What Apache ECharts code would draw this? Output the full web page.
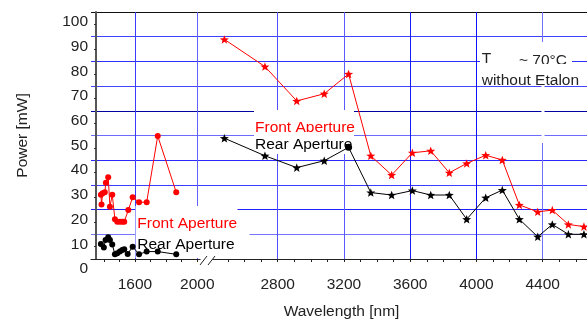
<!DOCTYPE html>
<html>
<head>
<meta charset="utf-8">
<script src="https://cdn.jsdelivr.net/npm/echarts@6/dist/echarts.min.js"></script>
<style>
  html, body { margin: 0; padding: 0; background: #fff; }
  #chart { width: 587px; height: 320px; }
</style>
</head>
<body>
<div id="chart"></div>
<script>
// === DATA ===
// left panel (short wavelengths)
const frontLeftNm = [1381, 1385, 1392, 1406, 1413, 1428, 1439, 1454, 1471, 1486, 1503, 1518, 1531, 1557, 1585, 1626, 1675, 1746, 1865];
const frontLeftPower = [26.0, 22.1, 26.6, 27.0, 30.9, 33.1, 21.2, 26.0, 16.1, 15.1, 15.1, 15.1, 15.1, 19.8, 25.0, 23.0, 23.0, 49.8, 27.0];
const rearLeftNm = [1381, 1400, 1411, 1428, 1439, 1454, 1471, 1486, 1503, 1518, 1531, 1553, 1585, 1626, 1675, 1746, 1865];
const rearLeftPower = [6.1, 4.7, 7.7, 8.8, 7.7, 5.9, 1.9, 2.3, 3.0, 3.6, 3.9, 2.0, 5.0, 1.9, 3.0, 3.0, 1.9];

// right panel (long wavelengths)
const rightNm = [2478, 2723, 2915, 3081, 3228, 3362, 3488, 3613, 3724, 3836, 3941, 4056, 4156, 4259, 4370, 4458, 4555, 4649];
const frontRightPower = [88.9, 77.9, 64.0, 66.9, 74.9, 41.8, 34.0, 43.0, 43.8, 34.9, 38.7, 42.0, 40.1, 21.9, 19.1, 19.8, 14.0, 13.1];
const rearRightPower = [48.9, 41.8, 37.0, 39.8, 45.2, 26.9, 25.9, 27.7, 25.9, 25.9, 16.1, 24.8, 27.9, 16.1, 9.0, 14.0, 10.0, 10.0];

// ticks
const leftTicks = [1400, 1500, 1600, 1700, 1800, 1900, 2000];
const leftLabels = [1600, 2000];
const rightTicks = [2500, 2600, 2700, 2800, 2900, 3000, 3100, 3200, 3300, 3400, 3500, 3600, 3700, 3800, 3900, 4000, 4100, 4200, 4300, 4400, 4500, 4600];
const rightLabels = [2800, 3200, 3600, 4000, 4400];

// === STYLE ===
const FONT = '"Liberation Sans", Arial, Helvetica, sans-serif';
const FS = 15.5;
const yGridColors = ['#000', '#7575ff', '#2020ff', '#3c3cff', '#2a2aff', '#6a6aff', '#0000a0', '#4545ff', '#3030ff', '#4040ff', '#111'];
const leftVColors = ['#3a3aff', '#6060ff'];
const rightVColors = ['#5050ff', '#5a5aff', '#1a1aff', '#1010ff', '#7070ff'];

function starSymbol() {
    let d = '';
    for (let i = 0; i < 10; i++) {
        const r = i % 2 === 0 ? 50 : 21;
        const a = -Math.PI / 2 + i * Math.PI / 5;
        d += (i ? 'L' : 'M') + (50 + r * Math.cos(a)).toFixed(2) + ',' + (50 + r * Math.sin(a)).toFixed(2);
    }
    return 'path://' + d + 'Z';
}
const STAR = starSymbol();

function zip(xs, ys) {
    return xs.map((x, i) => [x, ys[i]]);
}

// === CHART ===
const chart = echarts.init(document.getElementById('chart'), null, { renderer: 'canvas' });

const leftRange = { min: 1317.4, max: 2049.7 };
const rightRange = { min: 2361, max: 4667.5 };

function mainX(gridIndex, range, ticks, labels) {
    return {
        gridIndex: gridIndex, type: 'value', min: range.min, max: range.max,
        axisLine: { show: true, lineStyle: { color: '#222', width: 1 } },
        axisTick: { show: true, customValues: ticks, length: 3, lineStyle: { color: '#222' } },
        axisLabel: {
            customValues: labels, margin: 18, fontSize: FS, fontFamily: FONT, color: '#222',
            formatter: v => String(v)
        },
        splitLine: { show: false }
    };
}

function gridX(gridIndex, range, values, colors) {
    return {
        gridIndex: gridIndex, type: 'value', min: range.min, max: range.max,
        axisLine: { show: false },
        axisTick: { show: true, customValues: values, length: 0, lineStyle: { color: 'rgba(0,0,0,0)' } },
        axisLabel: { show: false, customValues: values },
        splitLine: { show: true, lineStyle: { color: colors, width: 1 } }
    };
}

// rear right: the point at 3228 is drawn as a circle
const rearRightData = zip(rightNm, rearRightPower).map((p, i) =>
    rightNm[i] === 3228 ? { value: p, symbol: 'circle', symbolSize: 7 } : p);

const option = {
    animation: false,
    grid: [
        { left: 91, top: 12, width: 114, bottom: 61 },
        { left: 205, top: 12, right: 0, bottom: 61 }
    ],
    xAxis: [
        mainX(0, leftRange, leftTicks, leftLabels),
        mainX(1, rightRange, rightTicks, rightLabels),
        gridX(0, leftRange, leftLabels, leftVColors),
        gridX(1, rightRange, rightLabels, rightVColors)
    ],
    yAxis: [
        {
            gridIndex: 0, type: 'value', min: 0, max: 100, interval: 10, offset: -5,
            axisLine: { show: true, lineStyle: { color: '#555', width: 2 } },
            axisTick: { show: false },
            minorTick: { show: true, splitNumber: 2, length: 2, lineStyle: { color: '#333' } },
            axisLabel: {
                fontSize: FS, fontFamily: FONT, color: '#222', margin: 8,
                verticalAlign: 'top', padding: [2, 0, 0, 0]
            },
            splitLine: { show: true, lineStyle: { color: yGridColors, width: 1 } },
            name: 'Power [mW]', nameLocation: 'middle', nameGap: 65,
            nameTextStyle: { fontSize: FS, fontFamily: FONT, color: '#222' }
        },
        {
            gridIndex: 1, type: 'value', min: 0, max: 100, interval: 10,
            axisLine: { show: false }, axisTick: { show: false }, axisLabel: { show: false },
            splitLine: { show: true, lineStyle: { color: yGridColors, width: 1 } }
        }
    ],
    series: [
        {
            type: 'line', xAxisIndex: 0, yAxisIndex: 0, data: zip(frontLeftNm, frontLeftPower),
            symbol: 'circle', symbolSize: 6, itemStyle: { color: '#ff0000' },
            lineStyle: { color: '#ff0000', width: 1 }
        },
        {
            type: 'line', xAxisIndex: 0, yAxisIndex: 0, data: zip(rearLeftNm, rearLeftPower),
            symbol: 'circle', symbolSize: 6, itemStyle: { color: '#000' },
            lineStyle: { color: '#000', width: 1 }
        },
        {
            type: 'line', xAxisIndex: 1, yAxisIndex: 1, data: zip(rightNm, frontRightPower),
            symbol: STAR, symbolSize: 9, symbolKeepAspect: true, itemStyle: { color: '#ff0000' },
            lineStyle: { color: '#ff0000', width: 1 }
        },
        {
            type: 'line', xAxisIndex: 1, yAxisIndex: 1, data: rearRightData,
            symbol: STAR, symbolSize: 9, symbolKeepAspect: true, itemStyle: { color: '#000' },
            lineStyle: { color: '#000', width: 1 }
        }
    ],
    graphic: [
        // hidden piece of the 4400 grid line
        { type: 'rect', z: 1, shape: { x: 541.5, y: 42, width: 3, height: 101 }, style: { fill: '#fff' } },
        // labels with white boxes
        { type: 'rect', z: 1, shape: { x: 254, y: 110, width: 100, height: 22 }, style: { fill: '#fff' } },
        { type: 'text', z: 1, x: 255, y: 127.5, style: { text: 'Front Aperture', fill: '#ff0000', font: FS + 'px ' + FONT, textVerticalAlign: 'middle' } },
        { type: 'rect', z: 1, shape: { x: 254, y: 132, width: 100, height: 22 }, style: { fill: '#fff' } },
        { type: 'text', z: 1, x: 255, y: 145, style: { text: 'Rear Aperture', fill: '#000', font: FS + 'px ' + FONT, textVerticalAlign: 'middle' } },

        { type: 'rect', z: 1, shape: { x: 135.5, y: 206, width: 102, height: 25 }, style: { fill: '#fff' } },
        { type: 'text', z: 1, x: 137.3, y: 224, style: { text: 'Front Aperture', fill: '#ff0000', font: FS + 'px ' + FONT, textVerticalAlign: 'middle' } },
        { type: 'rect', z: 1, shape: { x: 135.5, y: 231, width: 114, height: 27 }, style: { fill: '#fff' } },
        { type: 'text', z: 1, x: 137.3, y: 244.5, style: { text: 'Rear Aperture', fill: '#000', font: FS + 'px ' + FONT, textVerticalAlign: 'middle' } },

        { type: 'rect', z: 1, shape: { x: 480, y: 50, width: 92, height: 14 }, style: { fill: '#fff' } },
        { type: 'text', z: 1, x: 481.7, y: 59, style: { text: 'T', fill: '#222', font: FS + 'px ' + FONT, textVerticalAlign: 'middle' } },
        { type: 'text', z: 1, x: 519, y: 60.5, style: { text: '~ 70\u00b0C', fill: '#222', font: FS + 'px ' + FONT, textVerticalAlign: 'middle' } },
        { type: 'rect', z: 1, shape: { x: 480, y: 64, width: 102, height: 21 }, style: { fill: '#fff' } },
        { type: 'text', z: 1, x: 481.7, y: 80.5, style: { text: 'without Etalon', fill: '#222', font: FS + 'px ' + FONT, textVerticalAlign: 'middle' } },

        // axis break
        { type: 'rect', z: 1, shape: { x: 200.5, y: 256, width: 12, height: 6 }, style: { fill: '#fff' } },
        { type: 'line', z: 3, shape: { x1: 200, y1: 265, x2: 207, y2: 256 }, style: { stroke: '#222', lineWidth: 1 } },
        { type: 'line', z: 3, shape: { x1: 208, y1: 265, x2: 215, y2: 256 }, style: { stroke: '#222', lineWidth: 1 } },

        // x axis title
        { type: 'text', z: 1, x: 341.5, y: 311.5, style: { text: 'Wavelength [nm]', fill: '#222', font: FS + 'px ' + FONT, textAlign: 'center', textVerticalAlign: 'middle' } }
    ]
};

chart.setOption(option);
</script>
</body>
</html>
